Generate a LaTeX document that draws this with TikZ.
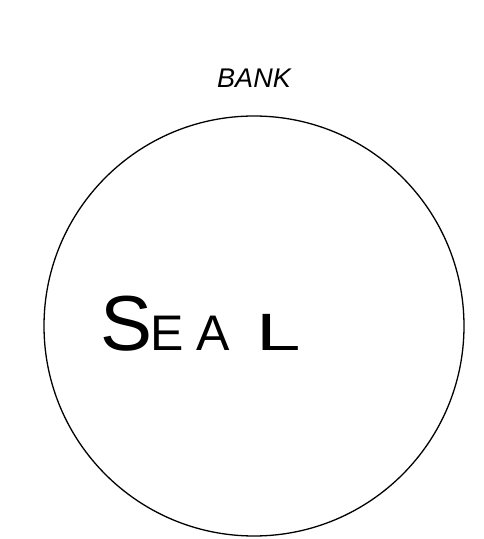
\documentclass[tikz,border=0pt]{standalone}
\usepackage{fontspec}
\setmainfont{Liberation Sans}
\usepackage{graphicx}
\begin{document}
\begin{tikzpicture}[x=1pt,y=1pt,
  sealring/.style={draw=black,line width=1.3pt,circle,minimum size=420pt,inner sep=0pt},
  titletext/.style={font=\fontsize{27}{27}\selectfont\itshape,inner sep=0pt},
  handtext/.style={font=\fontsize{50}{50}\selectfont,inner sep=0pt,anchor=base west}]
\useasboundingbox (0,0) rectangle (483,539);
\node[sealring] (ring) at (254,213) {};
\node[titletext] (bank) at (254,461) {BANK};
\node[handtext] (seal) at (100,188) {\makebox[50pt][l]{\fontsize{78}{78}\selectfont S}\makebox[46pt][l]{E}\makebox[60pt][l]{A}\scalebox{1.6}[1.05]{L}};
\end{tikzpicture}
\end{document}
